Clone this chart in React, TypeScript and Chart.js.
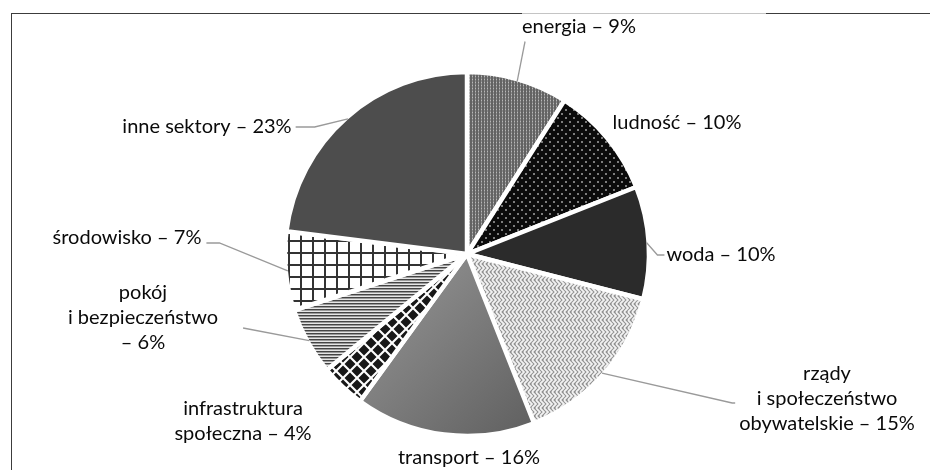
import React, { useEffect, useRef } from "react";
import { Chart, registerables } from "chart.js";

Chart.register(...registerables);

// ---- data ----
const categories = [
  "energia",
  "ludność",
  "woda",
  "rządy\ni społeczeństwo\nobywatelskie",
  "transport",
  "infrastruktura\nspołeczna",
  "pokój\ni bezpieczeństwo\n",
  "środowisko",
  "inne sektory",
];
const shares = [9, 10, 10, 15, 16, 4, 6, 7, 23];

// ---- layout (label placement relative to pie centre, leader style) ----
type Leader = { side: "none" | "bottom" | "left" | "right"; gap: number; elbow: number; yOff: number };
const labelOffsets: { dx: number; dy: number; leader: Leader }[] = [
  { dx: 112, dy: -227, leader: { side: "bottom", gap: 3, elbow: 0, yOff: 0 } },
  { dx: 210, dy: -131, leader: { side: "none", gap: 0, elbow: 0, yOff: 0 } },
  { dx: 254, dy: 1, leader: { side: "left", gap: 2, elbow: 9, yOff: 0 } },
  { dx: 360, dy: 145, leader: { side: "left", gap: 4, elbow: 7, yOff: 4 } },
  { dx: 2, dy: 204, leader: { side: "none", gap: 0, elbow: 0, yOff: 0 } },
  { dx: -224, dy: 167, leader: { side: "none", gap: 0, elbow: 0, yOff: 0 } },
  { dx: -324, dy: 64, leader: { side: "right", gap: 25, elbow: 25, yOff: 10 } },
  { dx: -340, dy: -16, leader: { side: "right", gap: 5, elbow: 18, yOff: 5 } },
  { dx: -260, dy: -127, leader: { side: "right", gap: 4, elbow: 23, yOff: 0 } },
];

const W = 930;
const H = 470;
const FONT = '20px Lato, "Open Sans", sans-serif';
const LINE_H = 25;

function tile(size: number, h: number, draw: (c: CanvasRenderingContext2D) => void): CanvasPattern | string {
  const cv = document.createElement("canvas");
  cv.width = size;
  cv.height = h;
  const c = cv.getContext("2d")!;
  draw(c);
  const p = c.createPattern(cv, "repeat");
  return p || "#777";
}

function makeFills(): (CanvasPattern | string | null)[] {
  const energia = tile(3, 3, (c) => {
    c.fillStyle = "#636363";
    c.fillRect(0, 0, 3, 3);
    c.fillStyle = "#8a8a8a";
    c.fillRect(1, 0, 1, 3);
    c.fillStyle = "#b8b8b8";
    c.fillRect(1, 1, 1, 1);
  });
  const ludnosc = tile(8, 8, (c) => {
    c.fillStyle = "#0b0b0b";
    c.fillRect(0, 0, 8, 8);
    c.fillStyle = "#7c7c7c";
    c.fillRect(1, 1, 2, 2);
    c.fillRect(5, 5, 2, 2);
  });
  const woda = "#2b2b2b";
  const rzady = tile(8, 8, (c) => {
    c.fillStyle = "#8e8e8e";
    c.fillRect(0, 0, 8, 8);
    c.strokeStyle = "#f2f2f2";
    c.lineWidth = 1.8;
    c.beginPath();
    c.moveTo(0, 0);
    c.lineTo(4, 4);
    c.lineTo(0, 8);
    c.moveTo(4, 0);
    c.lineTo(8, 4);
    c.lineTo(4, 8);
    c.moveTo(8, 0);
    c.lineTo(12, 4);
    c.lineTo(8, 8);
    c.moveTo(-4, 0);
    c.lineTo(0, 4);
    c.lineTo(-4, 8);
    c.stroke();
  });
  const infra = tile(14, 14, (c) => {
    c.fillStyle = "#ffffff";
    c.fillRect(0, 0, 14, 14);
    c.fillStyle = "#181818";
    const d = (x: number, y: number, r: number) => {
      c.beginPath();
      c.moveTo(x, y - r);
      c.lineTo(x + r, y);
      c.lineTo(x, y + r);
      c.lineTo(x - r, y);
      c.closePath();
      c.fill();
    };
    d(7, 7, 5.5);
    d(0, 0, 5.5);
    d(14, 0, 5.5);
    d(0, 14, 5.5);
    d(14, 14, 5.5);
  });
  const pokoj = tile(4, 3, (c) => {
    c.fillStyle = "#e6e6e6";
    c.fillRect(0, 0, 4, 3);
    c.fillStyle = "#444444";
    c.fillRect(0, 0, 4, 1);
    c.fillStyle = "#9a9a9a";
    c.fillRect(0, 1, 4, 1);
  });
  const srodowisko = tile(12, 12, (c) => {
    c.fillStyle = "#ffffff";
    c.fillRect(0, 0, 12, 12);
    c.fillStyle = "#333333";
    c.fillRect(0, 0, 2, 12);
    c.fillRect(0, 0, 12, 2);
  });
  const inne = "#4d4d4d";
  return [energia, ludnosc, woda, rzady, null, infra, pokoj, srodowisko, inne];
}

const framePlugin = {
  id: "frame",
  beforeDraw(chart: any) {
    const ctx = chart.ctx as CanvasRenderingContext2D;
    ctx.save();
    ctx.lineWidth = 1;
    ctx.strokeStyle = "#3c3c3c";
    ctx.beginPath();
    ctx.moveTo(11.5, 13.5);
    ctx.lineTo(11.5, H);
    ctx.moveTo(11, 13.5);
    ctx.lineTo(522, 13.5);
    ctx.moveTo(766, 13.5);
    ctx.lineTo(W, 13.5);
    ctx.stroke();
    ctx.strokeStyle = "#c4c4c4";
    ctx.beginPath();
    ctx.moveTo(522, 13.5);
    ctx.lineTo(766, 13.5);
    ctx.stroke();
    ctx.restore();
  },
};

const labelPlugin = {
  id: "sliceLabels",
  afterDraw(chart: any) {
    const ctx = chart.ctx as CanvasRenderingContext2D;
    const meta = chart.getDatasetMeta(0);
    ctx.save();
    ctx.font = FONT;
    ctx.textAlign = "center";
    ctx.textBaseline = "middle";
    meta.data.forEach((arc: any, i: number) => {
      const p = arc.getProps(["x", "y", "startAngle", "endAngle", "outerRadius"], true);
      const lay = labelOffsets[i];
      const lines = categories[i].split("\n");
      lines[lines.length - 1] = (lines[lines.length - 1] + " – " + shares[i] + "%").trim();
      const cx = p.x + lay.dx;
      const cy = p.y + lay.dy;
      const widths = lines.map((l) => ctx.measureText(l).width);
      const bw = Math.max(...widths);
      const bh = lines.length * LINE_H;
      const left = cx - bw / 2;
      const right = cx + bw / 2;
      const bottom = cy + bh / 2;
      // leader
      const mid = (p.startAngle + p.endAngle) / 2;
      const r = p.outerRadius - 2;
      const px = p.x + Math.cos(mid) * r;
      const py = p.y + Math.sin(mid) * r;
      const L = lay.leader;
      if (L.side !== "none") {
        ctx.strokeStyle = "#9a9a9a";
        ctx.lineWidth = 1.3;
        ctx.beginPath();
        ctx.moveTo(px, py);
        if (L.side === "bottom") {
          ctx.lineTo(left + L.gap, bottom + 2);
        } else if (L.side === "left") {
          ctx.lineTo(left - L.elbow, cy + L.yOff);
          ctx.lineTo(left - L.gap, cy + L.yOff);
        } else {
          ctx.lineTo(right + L.elbow, cy + L.yOff);
          ctx.lineTo(right + L.gap, cy + L.yOff);
        }
        ctx.stroke();
      }
      ctx.fillStyle = "#0a0a0a";
      lines.forEach((l, k) => {
        ctx.fillText(l, cx, cy + (k - (lines.length - 1) / 2) * LINE_H);
      });
    });
    ctx.restore();
  },
};

export default function App() {
  const ref = useRef<HTMLCanvasElement | null>(null);
  useEffect(() => {
    document.body.style.margin = "0";
    const fills = makeFills();
    const chart = new Chart(ref.current!, {
      type: "pie",
      data: {
        labels: categories.map((c) => c.replace(/\n/g, " ").trim()),
        datasets: [
          {
            data: shares,
            backgroundColor: (c: any) => {
              const f = fills[c.dataIndex];
              if (f) return f;
              const area = c.chart.chartArea;
              if (!area) return "#777";
              const x = (area.left + area.right) / 2;
              const y = (area.top + area.bottom) / 2;
              const g = c.chart.ctx.createLinearGradient(x - 90, y + 20, x + 70, y + 180);
              g.addColorStop(0, "#939393");
              g.addColorStop(1, "#5f5f5f");
              return g;
            },
            borderColor: "#ffffff",
            borderWidth: 4.5,
          } as any,
        ],
      },
      options: {
        responsive: false,
        animation: false,
        devicePixelRatio: 1,
        radius: 182,
        layout: { padding: { left: 4, right: 0, top: 38, bottom: 0 } },
        events: [],
        plugins: {
          legend: { display: false },
          tooltip: { enabled: false },
        },
      } as any,
      plugins: [framePlugin, labelPlugin],
    });
    return () => chart.destroy();
  }, []);
  return (
    <div style={{ position: "absolute", left: 0, top: 0, width: W, height: H, background: "#fff" }}>
      <canvas ref={ref} width={W} height={H} style={{ display: "block", width: W, height: H }} />
    </div>
  );
}
